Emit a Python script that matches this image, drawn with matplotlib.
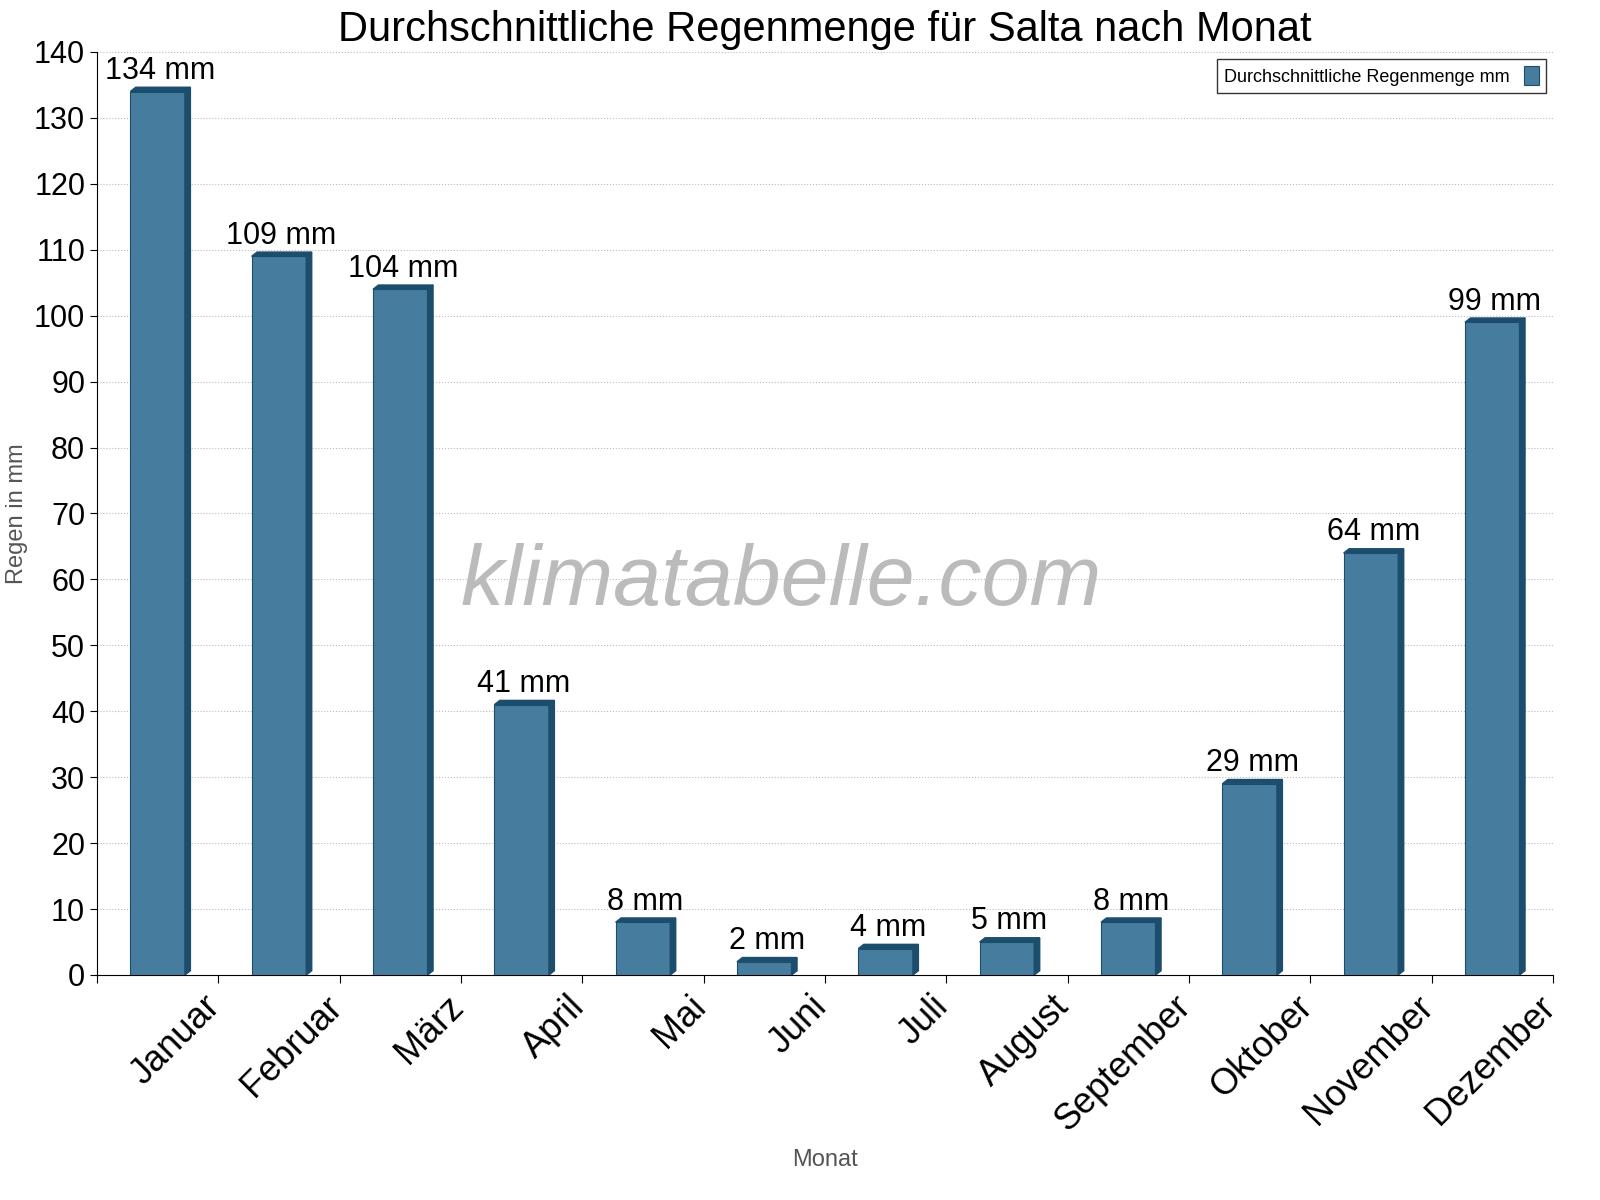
import matplotlib
matplotlib.use("Agg")
import matplotlib.pyplot as plt
import matplotlib.transforms as mtransforms
from matplotlib.patches import Polygon
import numpy as np

plt.rcParams["font.family"] = "Liberation Sans"

months = ["Januar","Februar","März","April","Mai","Juni","Juli","August","September","Oktober","November","Dezember"]
rain = [134,109,104,41,8,2,4,5,8,29,64,99]

fig = plt.figure(figsize=(16,12), dpi=100)
ax = fig.add_axes([0.0606,0.1875,0.91,0.7692])
front = "#467c9e"; dark = "#1d4d6d"
x = np.arange(len(months))
w = 0.45
ax.bar(x, rain, width=w, color=front, edgecolor=dark, linewidth=0.8, zorder=3, label="Durchschnittliche Regenmenge mm")
dx, dy = 0.045, 0.65
for xi, v in zip(x, rain):
    r = xi + w/2; l = xi - w/2
    ax.add_patch(Polygon([[r,0],[r+dx,dy],[r+dx,v+dy],[r,v]], closed=True, color=dark, zorder=3))
    ax.add_patch(Polygon([[l,v],[l+dx,v+dy],[r+dx,v+dy],[r,v]], closed=True, color=dark, zorder=3))
    ax.text(xi+0.02, v+dy+0.2, f"{v} mm", ha="center", va="bottom", fontsize=22, zorder=5)

ax.set_xlim(-0.5, 11.5)
ax.set_ylim(0, 140)
ax.set_yticks(range(0,141,10))
ax.tick_params(axis="y", labelsize=22, length=5)
ax.set_xticks(np.arange(-0.5, 12, 1), minor=False)
ax.set_xticklabels([])
ax.tick_params(axis="x", length=6, direction="out")
ax.set_xticks(x, minor=True)
ax.set_xticklabels(months, minor=True, rotation=45, ha="right", rotation_mode="anchor", fontsize=26)
ax.tick_params(axis="x", which="minor", length=0, pad=10)
off = mtransforms.ScaledTranslation(0.45, 0, fig.dpi_scale_trans)
for lbl in ax.get_xticklabels(minor=True):
    lbl.set_transform(lbl.get_transform() + off)
ax.grid(axis="y", linestyle=":", color="#bbbbbb", zorder=0)
for s in ["top","right"]:
    ax.spines[s].set_visible(False)
ax.set_ylabel("Regen in mm", fontsize=17, color="#555555")
ax.set_xlabel("Monat", fontsize=17, color="#555555", labelpad=8)
ax.set_title("Durchschnittliche Regenmenge für Salta nach Monat", fontsize=30, pad=8)
ax.text(0.47, 0.425, "klimatabelle.com", transform=ax.transAxes, fontsize=62, style="italic",
        color="#bbbbbb", ha="center", va="center", zorder=1)
leg = ax.legend(loc="upper right", markerfirst=False, fontsize=13, fancybox=False,
                edgecolor="black", handlelength=0.8, handleheight=1.2, borderaxespad=0.4)
leg.get_frame().set_linewidth(1)
fig.savefig("out.png", dpi=100)
